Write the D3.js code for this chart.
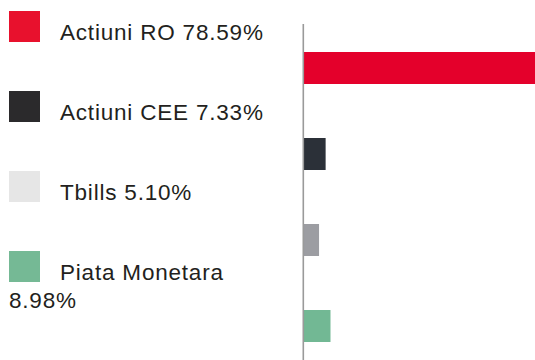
<!DOCTYPE html>
<html>
<head>
<meta charset="utf-8">
<script src="https://cdn.jsdelivr.net/npm/d3@7"></script>
<style>
  html, body { margin: 0; padding: 0; background: #fff; }
  svg { display: block; }
  text { font-family: "Liberation Sans", Arial, sans-serif; fill: #231f20; }
</style>
</head>
<body>
<svg id="chart" width="535" height="360"></svg>
<script>
// Asset allocation: category names, weights (%) and colours
const categories = ["Actiuni RO", "Actiuni CEE", "Tbills", "Piata Monetara"];
const weights = [78.59, 7.33, 5.10, 8.98];
const legendColors = ["#e8112d", "#2b2a2c", "#e6e6e6", "#75b995"];
const barColors = ["#e4002b", "#2b3038", "#9c9da2", "#72b894"];
// legend text lines (a long label wraps onto a second line)
const legendLines = [
  ["Actiuni RO 78.59%"],
  ["Actiuni CEE 7.33%"],
  ["Tbills 5.10%"],
  ["Piata Monetara", "8.98%"]
];

const svg = d3.select("#chart");

// ---- legend ----
const legendY = d3.scalePoint().domain(categories).range([11, 251]);
const items = svg.append("g").selectAll("g.item")
  .data(categories.map((c, i) => ({ c, i })))
  .join("g")
  .attr("class", "item")
  .attr("transform", d => `translate(0,${legendY(d.c)})`);

items.append("rect")
  .attr("x", 9).attr("y", 0)
  .attr("width", 31).attr("height", 31)
  .attr("fill", d => legendColors[d.i]);

items.append("text")
  .attr("font-size", 22.5)
  .attr("letter-spacing", 0.8)
  .each(function(d) {
    const t = d3.select(this);
    legendLines[d.i].forEach((line, k) => {
      t.append("tspan")
        .attr("x", k === 0 ? 60 : 9)
        .attr("y", 29 + k * 28)
        .text(line);
    });
  });

// ---- bars ----
const x0 = 304;
const x = d3.scaleLinear().domain([0, 80]).range([x0, x0 + 236]);
const y = d3.scaleBand()
  .domain(categories)
  .range([24, 370])
  .paddingInner(0.628)
  .paddingOuter(0.3256);

svg.append("g").selectAll("rect")
  .data(categories.map((c, i) => ({ c, v: weights[i], i })))
  .join("rect")
  .attr("x", x(0))
  .attr("y", d => y(d.c))
  .attr("width", d => x(d.v) - x(0))
  .attr("height", y.bandwidth())
  .attr("fill", d => barColors[d.i]);

// vertical baseline axis
svg.append("line")
  .attr("x1", x(0) - 0.7).attr("x2", x(0) - 0.7)
  .attr("y1", y.range()[0]).attr("y2", y.range()[1])
  .attr("stroke", "#9a9a9a")
  .attr("stroke-width", 1.6);
</script>
</body>
</html>
